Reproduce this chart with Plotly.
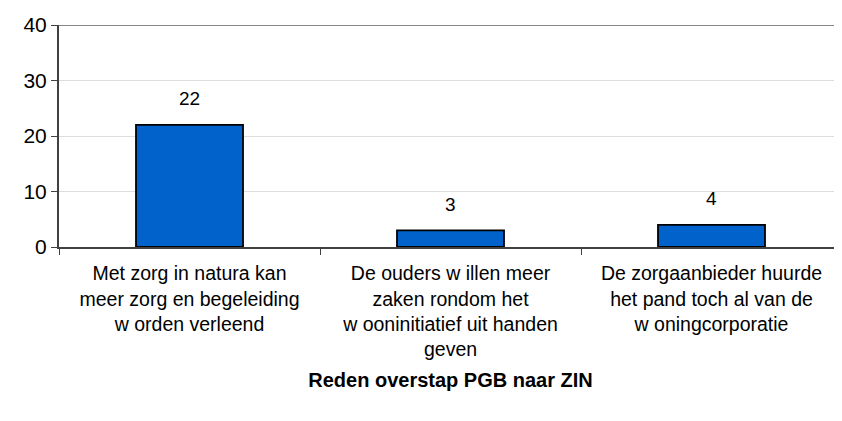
import plotly.graph_objects as go

categories = [
    "Met zorg in natura kan<br>meer zorg en begeleiding<br>w orden verleend",
    "De ouders w illen meer<br>zaken rondom het<br>w ooninitiatief uit handen<br>geven",
    "De zorgaanbieder huurde<br>het pand toch al van de<br>w oningcorporatie",
]
values = [22, 3, 4]
x_title = "Reden overstap PGB naar ZIN"
y_ticks = [0, 10, 20, 30, 40]

FONT = "Liberation Sans, Arial, sans-serif"

fig = go.Figure()
fig.add_trace(go.Bar(
    x=categories, y=values,
    marker=dict(color="#0162CC", line=dict(color="#000000", width=1.8)),
    width=0.41,
))
for c, v in zip(categories, values):
    fig.add_annotation(x=c, y=v, text=str(v), showarrow=False, yshift=26,
                       font=dict(family=FONT, size=19, color="#000"))

fig.update_layout(
    width=834, height=413,
    margin=dict(l=51, r=0, t=17, b=174),
    paper_bgcolor="white", plot_bgcolor="white",
    showlegend=False,
    font=dict(family=FONT, size=19, color="#000"),
    xaxis=dict(
        automargin=False,
        showline=True, linecolor="#404040", linewidth=2,
        ticks="outside", ticklen=6, tickcolor="#404040",
        tickson="boundaries",
        ticklabelstandoff=8,
        tickfont=dict(size=19.5),
        title=dict(text="<b>" + x_title + "</b>", font=dict(size=20), standoff=14),
    ),
    yaxis=dict(
        automargin=False,
        range=[0, 40], tickvals=y_ticks,
        showline=True, linecolor="#404040", linewidth=2,
        ticks="outside", ticklen=6, tickcolor="#404040",
        showgrid=True, gridcolor="#DDDDDD", gridwidth=1,
        tickfont=dict(size=21),
        zeroline=False,
    ),
)
fig.add_shape(type="line", xref="paper", yref="y", x0=0, x1=1, y0=40, y1=40,
              line=dict(color="#888888", width=2))

fig.write_html("out.html")
